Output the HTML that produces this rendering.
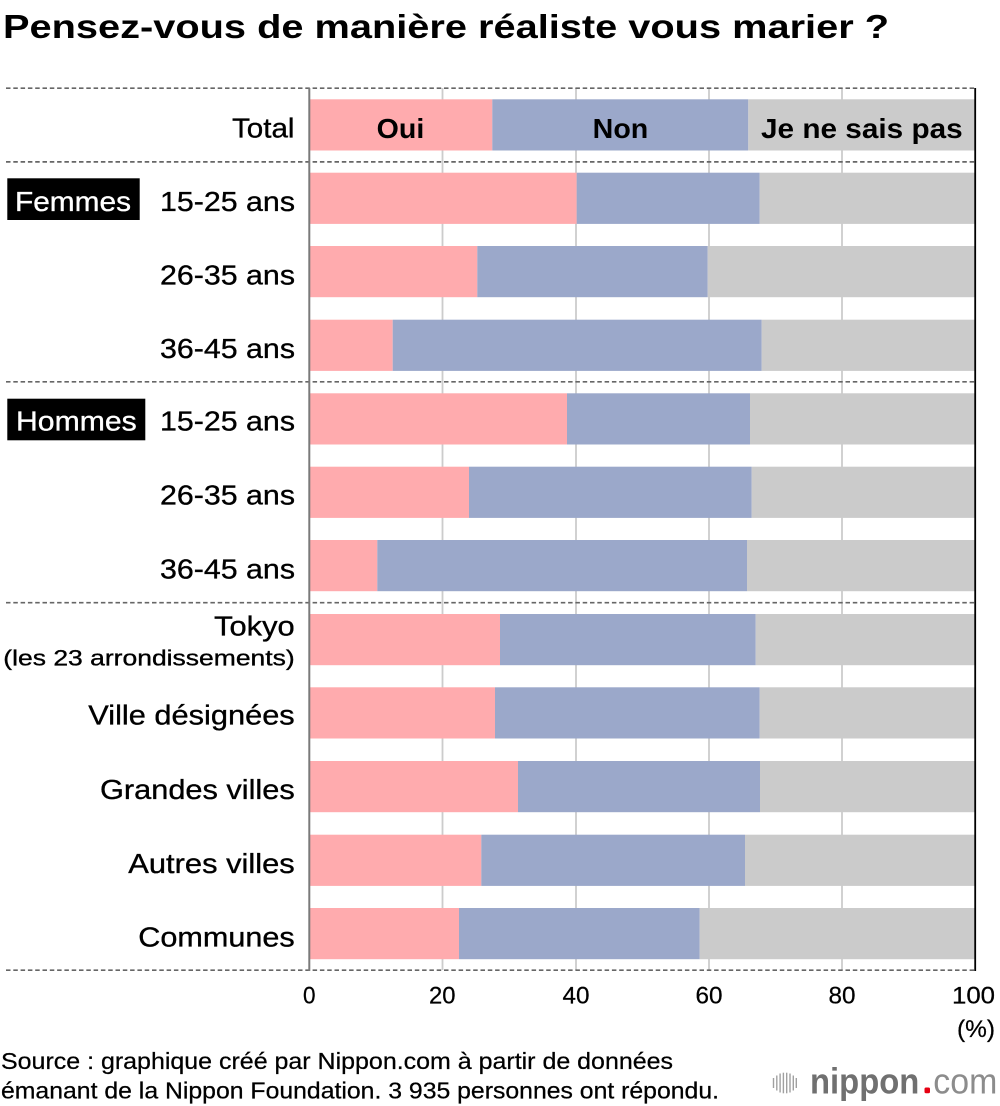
<!DOCTYPE html>
<html>
<head>
<meta charset="utf-8">
<style>
html,body{margin:0;padding:0;background:#fff;}
svg{display:block;}
text{font-family:"Liberation Sans",Arial,sans-serif;}
</style>
</head>
<body>
<svg width="1000" height="1106" viewBox="0 0 1000 1106" xmlns="http://www.w3.org/2000/svg">
<rect width="1000" height="1106" fill="#fff"/>

<!-- Title -->
<text x="3" y="38" font-size="33" font-weight="bold" fill="#000" textLength="886" lengthAdjust="spacingAndGlyphs">Pensez-vous de manière réaliste vous marier ?</text>

<!-- gridlines -->
<g stroke="#cccccc" stroke-width="1.8">
<line x1="442.5" y1="88" x2="442.5" y2="970"/>
<line x1="576" y1="88" x2="576" y2="970"/>
<line x1="709" y1="88" x2="709" y2="970"/>
<line x1="842" y1="88" x2="842" y2="970"/>
</g>

<!-- bars -->
<g>
<rect x="310" y="99.3" width="182.3" height="51.2" fill="#ffabae"/>
<rect x="492.3" y="99.3" width="256" height="51.2" fill="#9ba8ca"/>
<rect x="748.3" y="99.3" width="226.7" height="51.2" fill="#cbcbcb"/>
<rect x="310" y="172.7" width="266.7" height="51.2" fill="#ffabae"/>
<rect x="576.7" y="172.7" width="183" height="51.2" fill="#9ba8ca"/>
<rect x="759.7" y="172.7" width="215.3" height="51.2" fill="#cbcbcb"/>
<rect x="310" y="246" width="167.3" height="51.2" fill="#ffabae"/>
<rect x="477.3" y="246" width="230.4" height="51.2" fill="#9ba8ca"/>
<rect x="707.7" y="246" width="267.3" height="51.2" fill="#cbcbcb"/>
<rect x="310" y="319.7" width="82.7" height="51.2" fill="#ffabae"/>
<rect x="392.7" y="319.7" width="369" height="51.2" fill="#9ba8ca"/>
<rect x="761.7" y="319.7" width="213.3" height="51.2" fill="#cbcbcb"/>
<rect x="310" y="393.3" width="257" height="51.2" fill="#ffabae"/>
<rect x="567" y="393.3" width="183" height="51.2" fill="#9ba8ca"/>
<rect x="750" y="393.3" width="225" height="51.2" fill="#cbcbcb"/>
<rect x="310" y="466.7" width="159" height="51.2" fill="#ffabae"/>
<rect x="469" y="466.7" width="282.7" height="51.2" fill="#9ba8ca"/>
<rect x="751.7" y="466.7" width="223.3" height="51.2" fill="#cbcbcb"/>
<rect x="310" y="540" width="67.3" height="51.2" fill="#ffabae"/>
<rect x="377.3" y="540" width="369.7" height="51.2" fill="#9ba8ca"/>
<rect x="747" y="540" width="228" height="51.2" fill="#cbcbcb"/>
<rect x="310" y="614" width="190" height="51.2" fill="#ffabae"/>
<rect x="500" y="614" width="255.7" height="51.2" fill="#9ba8ca"/>
<rect x="755.7" y="614" width="219.3" height="51.2" fill="#cbcbcb"/>
<rect x="310" y="687.3" width="185" height="51.2" fill="#ffabae"/>
<rect x="495" y="687.3" width="264.7" height="51.2" fill="#9ba8ca"/>
<rect x="759.7" y="687.3" width="215.3" height="51.2" fill="#cbcbcb"/>
<rect x="310" y="761" width="208" height="51.2" fill="#ffabae"/>
<rect x="518" y="761" width="242" height="51.2" fill="#9ba8ca"/>
<rect x="760" y="761" width="215" height="51.2" fill="#cbcbcb"/>
<rect x="310" y="834.7" width="171.3" height="51.2" fill="#ffabae"/>
<rect x="481.3" y="834.7" width="263.7" height="51.2" fill="#9ba8ca"/>
<rect x="745" y="834.7" width="230" height="51.2" fill="#cbcbcb"/>
<rect x="310" y="908" width="149" height="51.2" fill="#ffabae"/>
<rect x="459" y="908" width="240.7" height="51.2" fill="#9ba8ca"/>
<rect x="699.7" y="908" width="275.3" height="51.2" fill="#cbcbcb"/>
</g>

<!-- dashed separators -->
<g stroke="#666" stroke-width="1.7" stroke-dasharray="4.5 2.8">
<line x1="6" y1="88.2" x2="975" y2="88.2"/>
<line x1="6" y1="161.9" x2="975" y2="161.9"/>
<line x1="6" y1="381.8" x2="975" y2="381.8"/>
<line x1="6" y1="602.7" x2="975" y2="602.7"/>
<line x1="6" y1="970.2" x2="975" y2="970.2"/>
</g>

<!-- axes -->
<line x1="309.3" y1="88" x2="309.3" y2="971" stroke="#7a7a7a" stroke-width="2"/>
<line x1="975.2" y1="88" x2="975.2" y2="971" stroke="#000" stroke-width="1.8"/>

<!-- bar header labels -->
<g font-weight="bold" font-size="28" fill="#000">
<text x="376.7" y="138" textLength="47.6" lengthAdjust="spacingAndGlyphs">Oui</text>
<text x="592.7" y="138" textLength="55.6" lengthAdjust="spacingAndGlyphs">Non</text>
<text x="761" y="138" textLength="201.7" lengthAdjust="spacingAndGlyphs">Je ne sais pas</text>
</g>

<!-- group boxes -->
<rect x="7.3" y="178.3" width="132.4" height="41.7" fill="#000"/>
<text x="15" y="211" font-size="28" fill="#fff" stroke="#fff" stroke-width="0.35" textLength="116" lengthAdjust="spacingAndGlyphs">Femmes</text>
<rect x="7.3" y="398.7" width="138" height="41.6" fill="#000"/>
<text x="16" y="430.5" font-size="28" fill="#fff" stroke="#fff" stroke-width="0.35" textLength="120.7" lengthAdjust="spacingAndGlyphs">Hommes</text>

<!-- row labels -->
<g font-size="28" fill="#000" stroke="#000" stroke-width="0.35">
<text x="232" y="137.7" textLength="62.5" lengthAdjust="spacingAndGlyphs">Total</text>
<text x="160" y="211" textLength="135" lengthAdjust="spacingAndGlyphs">15-25 ans</text>
<text x="160" y="284.3" textLength="135" lengthAdjust="spacingAndGlyphs">26-35 ans</text>
<text x="160" y="357.8" textLength="135" lengthAdjust="spacingAndGlyphs">36-45 ans</text>
<text x="160" y="430.5" textLength="135" lengthAdjust="spacingAndGlyphs">15-25 ans</text>
<text x="160" y="504.3" textLength="135" lengthAdjust="spacingAndGlyphs">26-35 ans</text>
<text x="160" y="578.5" textLength="135" lengthAdjust="spacingAndGlyphs">36-45 ans</text>
<text x="214" y="635.3" textLength="80.7" lengthAdjust="spacingAndGlyphs">Tokyo</text>
<text x="3.3" y="665.5" font-size="22" textLength="291.4" lengthAdjust="spacingAndGlyphs">(les 23 arrondissements)</text>
<text x="88.3" y="724.5" textLength="206.4" lengthAdjust="spacingAndGlyphs">Ville désignées</text>
<text x="100" y="799" textLength="194.7" lengthAdjust="spacingAndGlyphs">Grandes villes</text>
<text x="128.3" y="872.8" textLength="166.4" lengthAdjust="spacingAndGlyphs">Autres villes</text>
<text x="138.3" y="946.7" textLength="156.4" lengthAdjust="spacingAndGlyphs">Communes</text>
</g>

<!-- tick labels -->
<g font-size="24" fill="#000" stroke="#000" stroke-width="0.25">
<text x="303" y="1003.5" textLength="12.5" lengthAdjust="spacingAndGlyphs">0</text>
<text x="429" y="1003.5" textLength="26.5" lengthAdjust="spacingAndGlyphs">20</text>
<text x="562.5" y="1003.5" textLength="27" lengthAdjust="spacingAndGlyphs">40</text>
<text x="695.5" y="1003.5" textLength="27" lengthAdjust="spacingAndGlyphs">60</text>
<text x="828.5" y="1003.5" textLength="27" lengthAdjust="spacingAndGlyphs">80</text>
<text x="952" y="1003.5" textLength="43" lengthAdjust="spacingAndGlyphs">100</text>
<text x="957" y="1036.8" textLength="38" lengthAdjust="spacingAndGlyphs">(%)</text>
</g>

<!-- source -->
<g font-size="23" fill="#000" stroke="#000" stroke-width="0.25">
<text x="1" y="1069" textLength="672" lengthAdjust="spacingAndGlyphs">Source : graphique créé par Nippon.com à partir de données</text>
<text x="1" y="1098.3" textLength="718" lengthAdjust="spacingAndGlyphs">émanant de la Nippon Foundation. 3 935 personnes ont répondu.</text>
</g>

<!-- logo -->
<g stroke="#a0a0a0" stroke-width="1.4">
<line x1="773.5" y1="1078" x2="773.5" y2="1088"/>
<line x1="776.8" y1="1075.5" x2="776.8" y2="1090.5"/>
<line x1="780.1" y1="1073.5" x2="780.1" y2="1092.5"/>
<line x1="783.4" y1="1072.7" x2="783.4" y2="1093.3"/>
<line x1="786.7" y1="1072.7" x2="786.7" y2="1093.3"/>
<line x1="790" y1="1073.5" x2="790" y2="1092.5"/>
<line x1="793.3" y1="1075.5" x2="793.3" y2="1090.5"/>
<line x1="796.3" y1="1078" x2="796.3" y2="1088"/>
</g>
<text x="810" y="1093.3" font-size="36" font-weight="bold" fill="#707070" textLength="109.3" lengthAdjust="spacingAndGlyphs">nippon</text>
<rect x="924.5" y="1087.5" width="5.5" height="5.8" rx="1.5" fill="#e60012"/>
<text x="933.3" y="1093.3" font-size="36" fill="#8c8c8c" textLength="64" lengthAdjust="spacingAndGlyphs">com</text>
</svg>
</body>
</html>
